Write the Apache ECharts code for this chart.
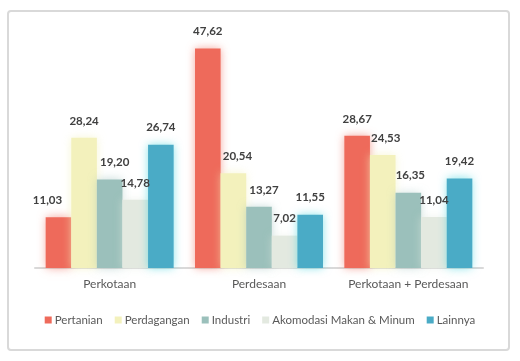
<!DOCTYPE html>
<html>
<head>
<meta charset="utf-8">
<script src="https://cdn.jsdelivr.net/npm/echarts@6/dist/echarts.min.js"></script>
<style>
html,body{margin:0;padding:0;background:#fff;}
#chart{width:520px;height:361px;}
</style>
</head>
<body>
<div id="chart"></div>
<script>
const categories = ['Perkotaan', 'Perdesaan', 'Perkotaan + Perdesaan'];
const seriesNames = ['Pertanian', 'Perdagangan', 'Industri', 'Akomodasi Makan & Minum', 'Lainnya'];
const pertanian = [11.03, 47.62, 28.67];
const perdagangan = [28.24, 20.54, 24.53];
const industri = [19.20, 13.27, 16.35];
const akomodasi = [14.78, 7.02, 11.04];
const lainnya = [26.74, 11.55, 19.42];

const seriesValues = [pertanian, perdagangan, industri, akomodasi, lainnya];
const colors = ['#EE6A5B', '#F3F1BC', '#9BC0BB', '#E3E9E0', '#4AABC6'];
const glow = ['rgba(238,106,91,0.6)', 'rgba(243,241,188,0.65)', 'rgba(155,192,187,0.55)', 'rgba(227,233,224,0.55)', 'rgba(60,210,220,0.6)'];
// horizontal label nudges (px) per series per category
const labelShift = [[-11, 0, 0], [0, 4, 3], [5, 5, 2], [0, 0, 0], [0, 0, 0]];

const chart = echarts.init(document.getElementById('chart'), null, {renderer: 'canvas'});
const FONT = 'Lato, "Liberation Sans", sans-serif';

const series = seriesValues.map((vals, i) => ({
  name: seriesNames[i],
  type: 'bar',
  barGap: '0%',
  barCategoryGap: '14.3%',
  itemStyle: {color: colors[i], shadowBlur: 9, shadowColor: glow[i]},
  data: vals.map((v, j) => ({
    value: v,
    label: {offset: [labelShift[i][j], 0]}
  })),
  label: {
    show: true,
    position: 'top',
    distance: 11,
    color: '#404040',
    fontWeight: 'bold',
    fontSize: 11.5,
    fontFamily: FONT,
    formatter: p => p.value.toFixed(2).replace('.', ',')
  }
}));

chart.setOption({
  animation: false,
  backgroundColor: '#fff',
  color: colors,
  graphic: [{
    type: 'rect',
    shape: {x: 8, y: 11, width: 501, height: 339, r: 3},
    style: {fill: 'none', stroke: '#D9D9D9', lineWidth: 2},
    z: -1
  }],
  grid: {left: 35, right: 37, top: 37.5, bottom: 93},
  legend: {
    bottom: 30,
    left: 'center',
    itemWidth: 7,
    itemHeight: 7,
    itemGap: 12,
    icon: 'rect',
    textStyle: {color: '#595959', fontSize: 11.5, fontFamily: FONT, padding: [0, 0, 0, -2]},
    data: seriesNames
  },
  xAxis: {
    type: 'category',
    data: categories,
    axisLine: {lineStyle: {color: '#D9D9D9', width: 2}},
    axisTick: {show: false},
    axisLabel: {color: '#595959', fontSize: 12, fontFamily: FONT, margin: 10, interval: 0}
  },
  yAxis: {
    type: 'value',
    min: 0,
    max: 50,
    show: false,
    splitLine: {show: false}
  },
  series: series
});
</script>
</body>
</html>
